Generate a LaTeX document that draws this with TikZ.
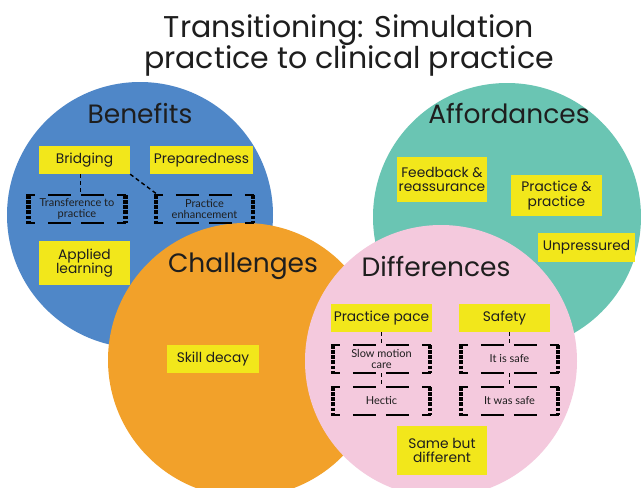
\documentclass[tikz,border=0pt]{standalone}
\usepackage{fontspec}
\setmainfont{Poppins}
\newfontfamily\latofont{Lato}
\definecolor{cblue}{HTML}{4F87C8}
\definecolor{cteal}{HTML}{6AC5B3}
\definecolor{corange}{HTML}{F2A12A}
\definecolor{cpink}{HTML}{F4C9DD}
\definecolor{cyellow}{HTML}{F2E71B}
\definecolor{ctext}{HTML}{1E1E1E}
\tikzset{
  ybox/.style={fill=cyellow, inner sep=1pt, align=center, text=ctext,
    font=\fontsize{13.8}{14.5}\selectfont, minimum height=28pt},
  brk/.style={inner sep=0pt, align=center, text=ctext, minimum width=101pt,
    minimum height=28pt, font=\latofont\fontsize{11}{11}\selectfont},
  brkedge/.style={line width=2.2pt, black,
    dash pattern=on 9pt off 13pt on 23pt off 10pt on 23pt off 13pt on 9pt off 60pt},
  brkside/.style={line width=4.5pt, black, dash pattern=on 3.8pt off 1.4pt},
  conn/.style={line width=1.4pt, black, dash pattern=on 4pt off 3pt},
  head/.style={font=\fontsize{26.5}{28}\selectfont, text=ctext}
}
\begin{document}
\begin{tikzpicture}[x=1pt,y=-1pt]
\useasboundingbox (0,0) rectangle (641,488);
\fill[white] (0,0) rectangle (641,488);
% circles
\fill[cblue] (140,215) circle (133pt);
\fill[cteal] (507,217) circle (134pt);
\fill[corange] (245,360) circle (137pt);
\fill[cpink] (441,361) circle (136pt);
% title
\node[font=\fontsize{30}{30.5}\selectfont, text=ctext, align=center] (title) at (349,45.5)
  {Transitioning: Simulation\\practice to clinical practice};
% headings
\node[head] (hben) at (140,113) {Benefits};
\node[head] (haff) at (509,113) {Affordances};
\node[head] (hcha) at (243,266) {Challenges};
\node[head] (hdif) at (436,266) {Differences};
% Benefits
\node[ybox, minimum width=91pt] (bridging) at (84.5,160) {Bridging};
\node[ybox, minimum width=103pt] (prep) at (201.5,160) {Preparedness};
\node[ybox, minimum width=91pt, minimum height=44pt] (applied) at (84.5,263) {Applied\\learning};
\node[brk] (trans) at (77,209) {Transference to\\practice};
\node[brk] (enh) at (204.5,209) {Practice\\enhancement};
% Affordances
\node[ybox, minimum width=90pt, minimum height=45pt] (feedback) at (442,179.5) {Feedback \&\\reassurance};
\node[ybox, minimum width=91pt, minimum height=41pt] (pandp) at (556.5,195.5) {Practice \&\\practice};
\node[ybox, minimum width=97pt, minimum height=29pt] (unpress) at (586.5,247.5) {Unpressured};
% Challenges
\node[ybox, minimum width=92pt] (skill) at (213,359) {Skill decay};
% Differences
\node[ybox, minimum width=101pt] (pace) at (381.5,318) {Practice pace};
\node[ybox, minimum width=91pt] (safety) at (504.5,318) {Safety};
\node[brk] (slow) at (381.5,359) {Slow motion\\care};
\node[brk] (hectic) at (381.5,401) {Hectic};
\node[brk] (issafe) at (509.5,359) {It is safe};
\node[brk] (wassafe) at (509.5,401) {It was safe};
\node[ybox, minimum width=90pt, minimum height=49pt] (same) at (442,450.5) {Same but\\different};
% bracket borders
\foreach \n in {trans,enh,slow,hectic,issafe,wassafe}{
  \draw[brkedge] (\n.north west) -- (\n.north east);
  \draw[brkedge] (\n.south west) -- (\n.south east);
  \draw[brkside] ([shift={(2.2pt,0pt)}]\n.north west) -- ([shift={(2.2pt,0pt)}]\n.south west);
  \draw[brkside] ([shift={(-2.2pt,0pt)}]\n.north east) -- ([shift={(-2.2pt,0pt)}]\n.south east);
}
% connectors
\coordinate (vx1) at (80.5,0);
\draw[conn] (bridging.south -| vx1) -- (trans.north -| vx1);
\draw[conn] (bridging.south east) -- ([xshift=4pt]enh.north west);
\draw[conn] (pace.south) -- (slow.north);
\draw[conn] (slow.south) -- (hectic.north);
\draw[conn] (safety.south -| issafe.north) -- (issafe.north);
\draw[conn] (issafe.south) -- (wassafe.north);
\end{tikzpicture}
\end{document}
